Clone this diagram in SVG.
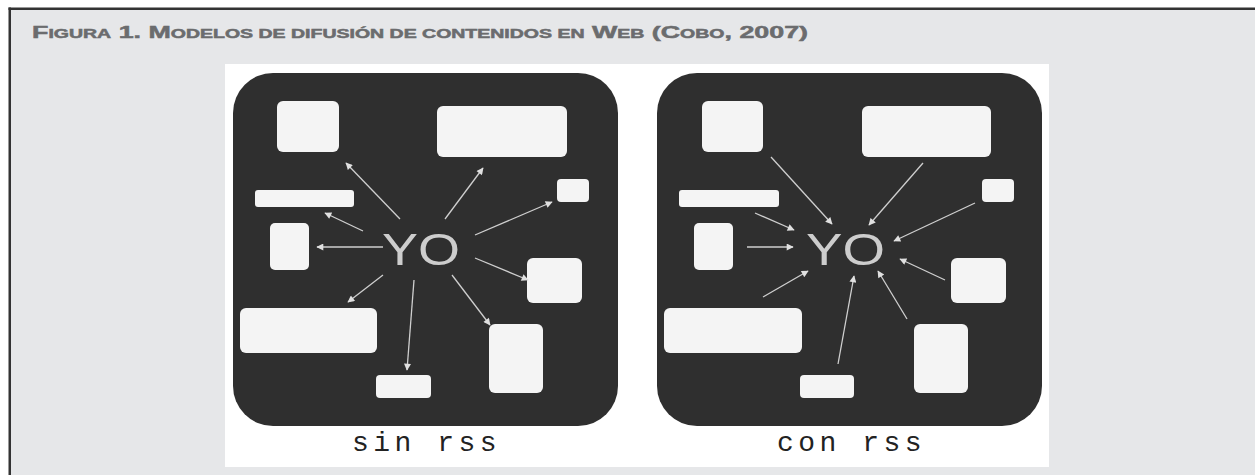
<svg xmlns="http://www.w3.org/2000/svg" width="1255" height="475" viewBox="0 0 1255 475">
<defs>
<style>
.bg{fill:#e6e7e9}
.panel{fill:#2f2f2f}
.box{fill:#f4f4f4}
.arr{stroke:#cfcfcf;stroke-width:1.3;fill:none;marker-end:url(#ah)}
.yo{font-family:"Liberation Sans",Arial,sans-serif;font-size:44px;fill:#cdcdcd}
.cap{font-family:"Liberation Mono","Courier New",monospace;font-size:28px;fill:#222;letter-spacing:4.5px}
.title{font-family:"Liberation Sans",Arial,sans-serif;font-weight:bold;font-size:16.5px;fill:#6b6c6e;stroke:#6b6c6e;stroke-width:0.5}
.sc{font-size:12px}
</style>
<marker id="ah" viewBox="0 0 10 10" refX="9" refY="5" markerWidth="9" markerHeight="7" markerUnits="userSpaceOnUse" orient="auto">
<path d="M0,0 L10,5 L0,10 z" fill="#e0e0e0"/>
</marker>
</defs>
<rect width="1255" height="475" fill="#ffffff"/>
<rect class="bg" x="10" y="9" width="1245" height="466"/>
<rect x="8.5" y="7.5" width="2.5" height="467.5" fill="#333"/>
<rect x="8.5" y="7.5" width="1246.5" height="2.5" fill="#333"/>
<text class="title" x="32" y="38.3" textLength="776" lengthAdjust="spacingAndGlyphs">F<tspan class="sc">IGURA</tspan> 1. M<tspan class="sc">ODELOS DE DIFUSIÓN DE CONTENIDOS EN</tspan> W<tspan class="sc">EB</tspan> (C<tspan class="sc">OBO</tspan>, 2007)</text>
<rect x="225" y="64" width="824" height="403" fill="#ffffff"/>

<g id="panel-sin">
<rect class="panel" x="233" y="73" width="385" height="353" rx="40"/>
</g>
<g id="panel-con">
<rect class="panel" x="657" y="73" width="385" height="353" rx="40"/>
</g>

<g id="sin-box1"><rect class="box" x="277" y="101" width="62" height="51" rx="6"/></g>
<g id="sin-box2"><rect class="box" x="437" y="106" width="130" height="51" rx="6"/></g>
<g id="sin-box3"><rect class="box" x="557" y="179" width="32" height="23" rx="4"/></g>
<g id="sin-box4"><rect class="box" x="255" y="190" width="99" height="17" rx="3"/></g>
<g id="sin-box5"><rect class="box" x="270" y="223" width="39" height="47" rx="5"/></g>
<g id="sin-box6"><rect class="box" x="527" y="258" width="55" height="45" rx="6"/></g>
<g id="sin-box7"><rect class="box" x="240" y="308" width="137" height="45" rx="6"/></g>
<g id="sin-box8"><rect class="box" x="489" y="324" width="54" height="69" rx="6"/></g>
<g id="sin-box9"><rect class="box" x="376" y="375" width="55" height="23" rx="4"/></g>
<g id="sin-yo"><text class="yo" x="382" y="265" textLength="78" lengthAdjust="spacingAndGlyphs">YO</text></g>
<g id="sin-label"><text class="cap" x="352" y="451">sin rss</text></g>

<g id="con-box1"><rect class="box" x="702" y="101" width="61" height="51" rx="6"/></g>
<g id="con-box2"><rect class="box" x="862" y="106" width="129" height="51" rx="6"/></g>
<g id="con-box3"><rect class="box" x="982" y="179" width="32" height="23" rx="4"/></g>
<g id="con-box4"><rect class="box" x="679" y="190" width="100" height="17" rx="3"/></g>
<g id="con-box5"><rect class="box" x="694" y="223" width="39" height="47" rx="5"/></g>
<g id="con-box6"><rect class="box" x="951" y="258" width="55" height="45" rx="6"/></g>
<g id="con-box7"><rect class="box" x="664" y="308" width="138" height="45" rx="6"/></g>
<g id="con-box8"><rect class="box" x="914" y="324" width="54" height="69" rx="6"/></g>
<g id="con-box9"><rect class="box" x="800" y="375" width="54" height="23" rx="4"/></g>
<g id="con-yo"><text class="yo" x="806" y="265" textLength="79" lengthAdjust="spacingAndGlyphs">YO</text></g>
<g id="con-label"><text class="cap" x="777" y="451">con rss</text></g>

<g id="connectors">
<line class="arr" x1="400" y1="219" x2="346" y2="163"/>
<line class="arr" x1="445" y1="219" x2="483" y2="168"/>
<line class="arr" x1="475" y1="235" x2="552" y2="202"/>
<line class="arr" x1="363" y1="231" x2="325" y2="213"/>
<line class="arr" x1="383" y1="247" x2="317" y2="247"/>
<line class="arr" x1="383" y1="275" x2="348" y2="302"/>
<line class="arr" x1="414" y1="280" x2="407" y2="370"/>
<line class="arr" x1="452" y1="275" x2="490" y2="325"/>
<line class="arr" x1="475" y1="258" x2="528" y2="280"/>

<line class="arr" x1="771" y1="157" x2="832" y2="224"/>
<line class="arr" x1="923" y1="163" x2="869" y2="225"/>
<line class="arr" x1="975" y1="203" x2="894" y2="241"/>
<line class="arr" x1="755" y1="213" x2="794" y2="230"/>
<line class="arr" x1="747" y1="247" x2="793" y2="247"/>
<line class="arr" x1="763" y1="297" x2="808" y2="271"/>
<line class="arr" x1="838" y1="364" x2="854" y2="276"/>
<line class="arr" x1="907" y1="319" x2="878" y2="271"/>
<line class="arr" x1="945" y1="280" x2="900" y2="259"/>
</g>
</svg>
